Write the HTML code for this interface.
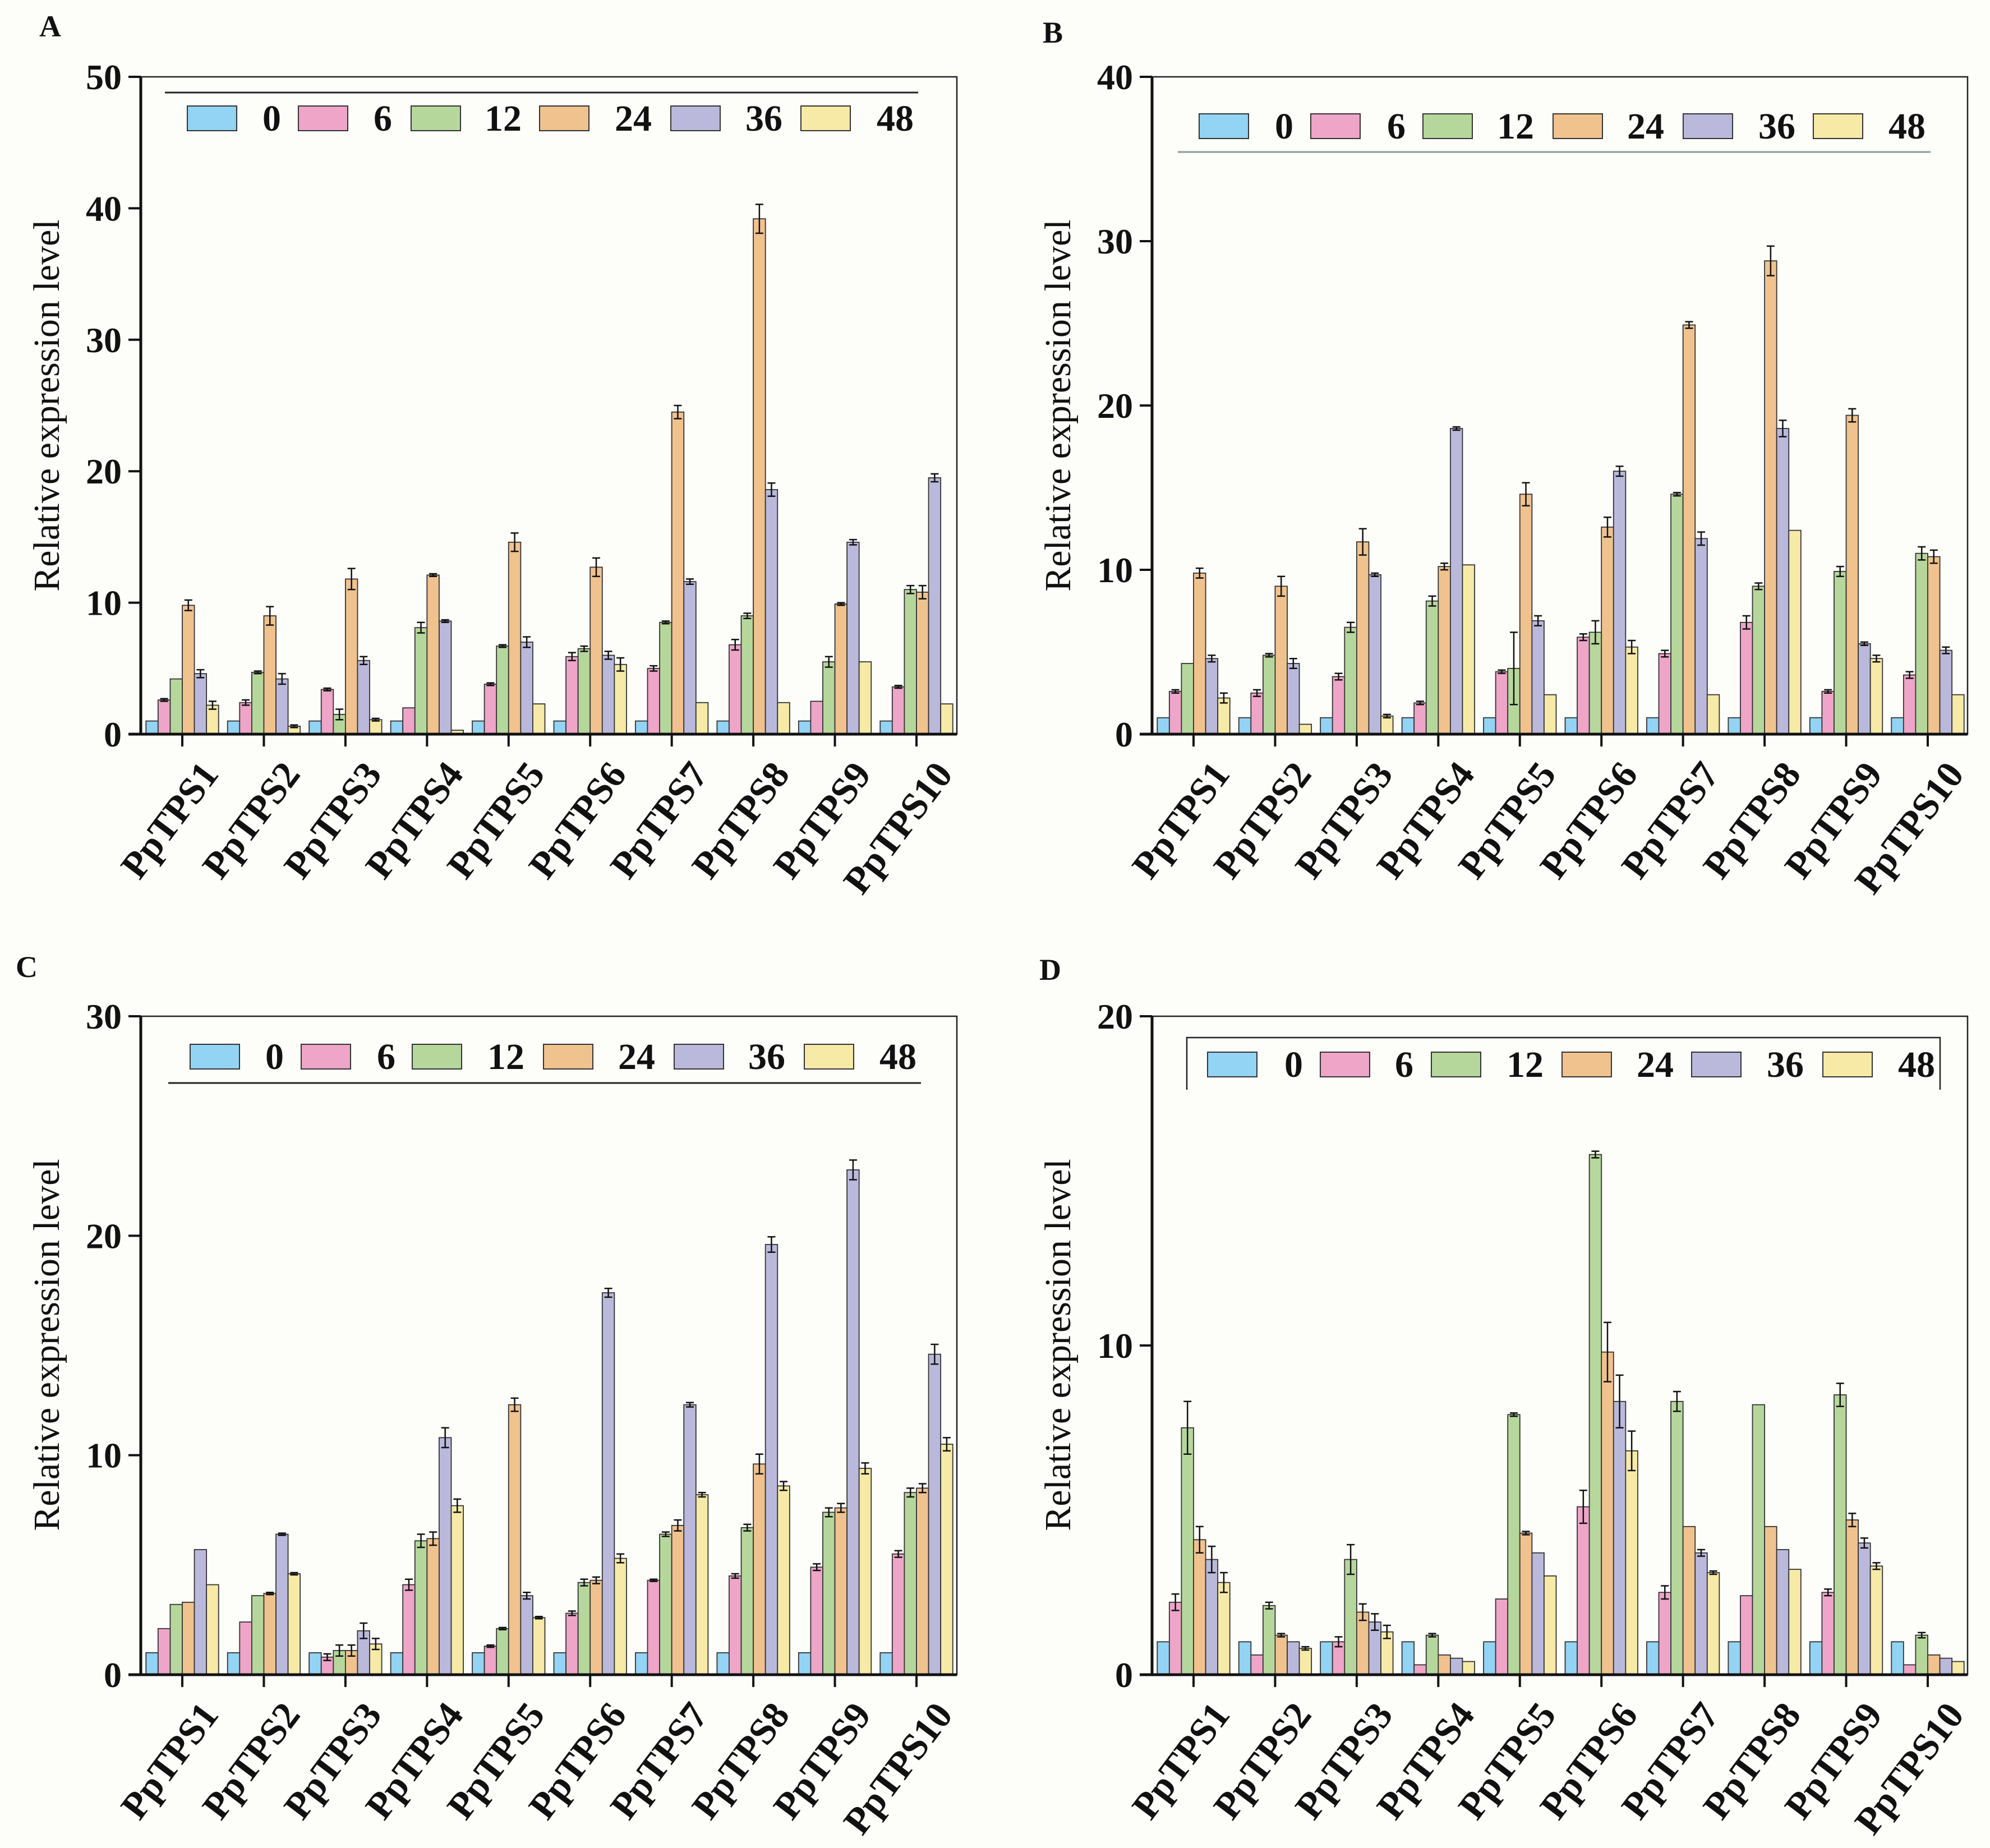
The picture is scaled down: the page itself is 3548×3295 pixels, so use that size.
<!DOCTYPE html>
<html><head><meta charset="utf-8"><style>
html,body{margin:0;padding:0;background:#fdfdfa;}
svg{display:block;}
text{font-family:"Liberation Serif",serif;}
</style></head><body>
<svg id="fig" width="3548" height="3295" viewBox="0 0 3548 3295" xmlns="http://www.w3.org/2000/svg"></svg>
<script>
const categories = ["PpTPS1","PpTPS2","PpTPS3","PpTPS4","PpTPS5","PpTPS6","PpTPS7","PpTPS8","PpTPS9","PpTPS10"];
const seriesNames = ["0","6","12","24","36","48"];
const colors = ["#93d3f3","#eea5c8","#b6d79c","#f0c28e","#bab9dc","#f6eaa6"];
// values per gene: [0h,6h,12h,24h,36h,48h]
const valuesA = [[1,2.6,4.2,9.8,4.6,2.2],[1,2.4,4.7,9.0,4.2,0.6],[1,3.4,1.5,11.8,5.6,1.1],[1,2.0,8.1,12.1,8.6,0.3],[1,3.8,6.7,14.6,7.0,2.3],[1,5.9,6.5,12.7,6.0,5.3],[1,5.0,8.5,24.5,11.6,2.4],[1,6.8,9.0,39.2,18.6,2.4],[1,2.5,5.5,9.9,14.6,5.5],[1,3.6,11.0,10.8,19.5,2.3]];
const errorsA = [[0,0.1,0,0.4,0.3,0.3],[0,0.2,0.1,0.7,0.4,0.1],[0,0.1,0.4,0.8,0.3,0.1],[0,0,0.4,0.1,0.1,0],[0,0.1,0.1,0.7,0.4,0],[0,0.3,0.2,0.7,0.3,0.5],[0,0.2,0.1,0.5,0.2,0],[0,0.4,0.2,1.1,0.5,0],[0,0,0.4,0.1,0.2,0],[0,0.1,0.3,0.5,0.3,0]];
const valuesB = [[1,2.6,4.3,9.8,4.6,2.2],[1,2.5,4.8,9.0,4.3,0.6],[1,3.5,6.5,11.7,9.7,1.1],[1,1.9,8.1,10.2,18.6,10.3],[1,3.8,4.0,14.6,6.9,2.4],[1,5.9,6.2,12.6,16.0,5.3],[1,4.9,14.6,24.9,11.9,2.4],[1,6.8,9.0,28.8,18.6,12.4],[1,2.6,9.9,19.4,5.5,4.6],[1,3.6,11.0,10.8,5.1,2.4]];
const errorsB = [[0,0.1,0,0.3,0.2,0.3],[0,0.2,0.1,0.6,0.3,0],[0,0.2,0.3,0.8,0.1,0.1],[0,0.1,0.3,0.2,0.1,0],[0,0.1,2.2,0.7,0.3,0],[0,0.2,0.7,0.6,0.3,0.4],[0,0.2,0.1,0.2,0.4,0],[0,0.4,0.2,0.9,0.5,0],[0,0.1,0.3,0.4,0.1,0.2],[0,0.2,0.4,0.4,0.2,0]];
const valuesC = [[1,2.1,3.2,3.3,5.7,4.1],[1,2.4,3.6,3.7,6.4,4.6],[1,0.8,1.1,1.1,2.0,1.4],[1,4.1,6.1,6.2,10.8,7.7],[1,1.3,2.1,12.3,3.6,2.6],[1,2.8,4.2,4.3,17.4,5.3],[1,4.3,6.4,6.8,12.3,8.2],[1,4.5,6.7,9.6,19.6,8.6],[1,4.9,7.4,7.6,23.0,9.4],[1,5.5,8.3,8.5,14.6,10.5]];
const errorsC = [[0,0,0,0,0,0],[0,0,0,0.05,0.05,0.05],[0,0.15,0.25,0.25,0.35,0.25],[0,0.25,0.3,0.3,0.45,0.3],[0,0.05,0.05,0.3,0.15,0.05],[0,0.1,0.15,0.15,0.2,0.2],[0,0.05,0.1,0.25,0.1,0.1],[0,0.1,0.15,0.45,0.35,0.2],[0,0.15,0.2,0.2,0.45,0.25],[0,0.15,0.2,0.2,0.45,0.3]];
const valuesD = [[1,2.2,7.5,4.1,3.5,2.8],[1,0.6,2.1,1.2,1.0,0.8],[1,1.0,3.5,1.9,1.6,1.3],[1,0.3,1.2,0.6,0.5,0.4],[1,2.3,7.9,4.3,3.7,3.0],[1,5.1,15.8,9.8,8.3,6.8],[1,2.5,8.3,4.5,3.7,3.1],[1,2.4,8.2,4.5,3.8,3.2],[1,2.5,8.5,4.7,4.0,3.3],[1,0.3,1.2,0.6,0.5,0.4]];
const errorsD = [[0,0.25,0.8,0.4,0.4,0.3],[0,0,0.1,0.05,0,0.05],[0,0.15,0.45,0.25,0.25,0.2],[0,0,0.05,0,0,0],[0,0,0.05,0.05,0,0],[0,0.5,0.1,0.9,0.8,0.6],[0,0.2,0.3,0,0.1,0.05],[0,0,0,0,0,0],[0,0.1,0.35,0.2,0.15,0.1],[0,0,0.08,0,0,0]];
const ticksA = [0,10,20,30,40,50];
const ticksB = [0,10,20,30,40];
const ticksC = [0,10,20,30];
const ticksD = [0,10,20];

const NS="http://www.w3.org/2000/svg";
const svg=document.getElementById('fig');
function mk(tag,attrs,parent,text){const e=document.createElementNS(NS,tag);for(const k in attrs)e.setAttribute(k,attrs[k]);if(text!==undefined)e.textContent=text;(parent||svg).appendChild(e);return e;}

const panels=[
 {id:'a',letter:'A',lx:70,ly:65,L:251,R:1706,T:137,B:1309,max:50,ticks:ticksA,vals:valuesA,errs:errorsA,t0:325,t9:1634,titleX:82,titleY:723,
  leg:{boxX:[334,532,733,962,1196,1428],labEnd:[501,699,930,1162,1395,1629],y:189,line:{y:165,x1:294,x2:1637,color:'#222'},frame:false}},
 {id:'b',letter:'B',lx:1859,ly:76,L:2054,R:3508,T:137,B:1309,max:40,ticks:ticksB,vals:valuesB,errs:errorsB,t0:2128,t9:3437,titleX:1885,titleY:723,
  leg:{boxX:[2138,2337,2537,2769,3001,3233],labEnd:[2306,2506,2735,2967,3201,3433],y:203,line:{y:271,x1:2100,x2:3442,color:'#8a9a9a'},frame:false}},
 {id:'c',letter:'C',lx:28,ly:1742,L:251,R:1706,T:1812,B:2986,max:30,ticks:ticksC,vals:valuesC,errs:errorsC,t0:325,t9:1634,titleX:82,titleY:2398,
  leg:{boxX:[339,537,735,969,1202,1434],labEnd:[506,705,935,1168,1400,1634],y:1862,line:{y:1931,x1:300,x2:1642,color:'#222'},frame:false}},
 {id:'d',letter:'D',lx:1853,ly:1747,L:2054,R:3508,T:1812,B:2986,max:20,ticks:ticksD,vals:valuesD,errs:errorsD,t0:2128,t9:3437,titleX:1885,titleY:2398,
  leg:{boxX:[2153,2354,2552,2785,3016,3250],labEnd:[2323,2520,2752,2984,3216,3450],y:1876,line:{y:1850,x1:2116,x2:3459,color:'#222'},frame:true,frameBottom:1943}}
];

panels.forEach(p=>{
  const g=mk('g',{});
  
  
  const yS=v=>p.B-(v/p.max)*(p.B-p.T);
  const step=(p.t9-p.t0)/(categories.length-1);
  const xC=i=>p.t0+i*step;
  const bw=step*0.89/6;
  const lt=mk('text',{x:p.lx,y:p.ly,'font-size':54,'font-weight':'bold',fill:'#111'},g,p.letter);
  
  
  const fr=mk('rect',{x:p.L,y:p.T,width:p.R-p.L,height:p.B-p.T,fill:'none',stroke:'#222','stroke-width':2.5},g);
  
  
  p.vals.forEach((row,i)=>{
    row.forEach((v,s)=>{
      const x=xC(i)-3*bw+s*bw;
      const r=mk('rect',{x:x,y:yS(v),width:bw,height:p.B-yS(v),fill:colors[s],stroke:'#333','stroke-width':1.8},g);
      
      
      const e=p.errs[i][s];
      if(e>0){
        const cx=x+bw/2;
        const eb=mk('path',{d:`M${cx} ${yS(v-e)}V${yS(v+e)}M${cx-7} ${yS(v+e)}H${cx+7}M${cx-7} ${yS(v-e)}H${cx+7}`,stroke:'#111','stroke-width':2.5,fill:'none'},g);
        
        
      }
    });
  });
  const ya=mk('line',{x1:p.L,y1:p.T,x2:p.L,y2:p.B,stroke:'#111','stroke-width':5},g);
  
  
  const xa=mk('line',{x1:p.L-22,y1:p.B,x2:p.R,y2:p.B,stroke:'#111','stroke-width':5},g);
  
  
  p.ticks.forEach(t=>{
    mk('line',{x1:p.L-22,y1:yS(t),x2:p.L,y2:yS(t),stroke:'#111','stroke-width':4},g);
    const tl=mk('text',{x:p.L-34,y:yS(t)+22,'font-size':64,'font-weight':'bold','text-anchor':'end',fill:'#111'},g,String(t));
    
    
  });
  categories.forEach((c,i)=>{
    mk('line',{x1:xC(i),y1:p.B,x2:xC(i),y2:p.B+22,stroke:'#111','stroke-width':4},g);
    const ax=xC(i)+67, ay=p.B+72;
    const cl=mk('text',{x:ax,y:ay,'font-size':68,'font-weight':'bold','text-anchor':'end',fill:'#111',transform:`rotate(-53 ${ax} ${ay})`},g,c);
    
    
  });
  const yt=mk('text',{x:p.titleX,y:p.titleY,'font-size':66,'text-anchor':'middle',fill:'#111',transform:`rotate(-90 ${p.titleX} ${p.titleY})`,dy:'0.35em'},g,'Relative expression level');
  
  
  const lg=mk('g',{},g);
  
  
  const L=p.leg;
  if(L.frame){
    mk('path',{d:`M${L.line.x1} ${L.frameBottom}V${L.line.y}H${L.line.x2}V${L.frameBottom}`,fill:'none',stroke:'#222','stroke-width':2.5},lg);
  } else {
    mk('line',{x1:L.line.x1,y1:L.line.y,x2:L.line.x2,y2:L.line.y,stroke:L.line.color,'stroke-width':3},lg);
  }
  seriesNames.forEach((n,s)=>{
    const it=mk('g',{},lg);
    
    
    mk('rect',{x:L.boxX[s],y:L.y,width:88,height:44,fill:colors[s],stroke:'#333','stroke-width':2},it);
    mk('text',{x:L.labEnd[s],y:L.y+44,'font-size':66,'font-weight':'bold','text-anchor':'end',fill:'#111'},it,n);
  });
});
</script>
</body></html>
